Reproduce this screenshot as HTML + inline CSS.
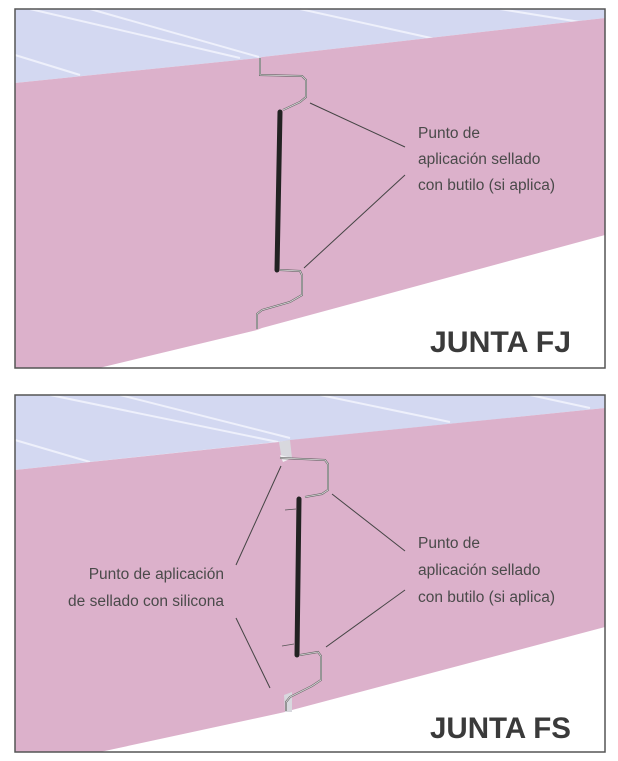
<!DOCTYPE html>
<html><head><meta charset="utf-8"><style>
html,body{margin:0;padding:0;background:#fff;}
svg{display:block;}
text{font-family:"Liberation Sans",sans-serif;fill:#4a4a4a;}
</style></head><body>
<svg width="618" height="761" viewBox="0 0 618 761" xmlns="http://www.w3.org/2000/svg">
<!-- Panel 1 -->
<rect x="15" y="9" width="590" height="359" fill="#fff"/>
<polygon points="15,9 605,9 605,18 262,57 259,58 15,83" fill="#d3d8f1"/>
<g stroke="#eef0fb" stroke-width="2" fill="none">
<line x1="30" y1="9" x2="240" y2="58"/>
<line x1="90" y1="9" x2="259" y2="57"/>
<line x1="300" y1="9" x2="440" y2="40"/>
<line x1="500" y1="9" x2="580" y2="22"/>
<line x1="15" y1="55" x2="80" y2="75"/>
</g>
<polygon points="15,83 259,58 262,57 605,18 605,235 262,328 257,330 99,368 15,368" fill="#dcb1cb"/>
<path d="M260,58 L260,75 L302,76 L306,80 L306,97 L300,102 L283,110" fill="none" stroke="#666" stroke-width="2"/>
<path d="M260,58 L260,75 L302,76 L306,80 L306,97 L300,102 L283,110" fill="none" stroke="#ddd" stroke-width="0.8"/>
<path d="M280,112 L277,270" stroke="#222" stroke-width="5" stroke-linecap="round"/>
<path d="M280,270 L300,271 L302,275 L302,295 L290,302 L262,310 L257,314 L257,329" fill="none" stroke="#666" stroke-width="2"/>
<path d="M280,270 L300,271 L302,275 L302,295 L290,302 L262,310 L257,314 L257,329" fill="none" stroke="#ddd" stroke-width="0.8"/>
<line x1="310" y1="103" x2="405" y2="147" stroke="#444" stroke-width="1"/>
<line x1="304" y1="268" x2="405" y2="175" stroke="#444" stroke-width="1"/>
<text x="418" y="138" font-size="15.5">Punto de</text>
<text x="418" y="164" font-size="15.5">aplicación sellado</text>
<text x="418" y="190" font-size="15.5">con butilo (si aplica)</text>
<text x="430" y="352" font-size="30" font-weight="bold" textLength="141" lengthAdjust="spacingAndGlyphs" style="fill:#3a3a3a">JUNTA FJ</text>
<rect x="15" y="9" width="590" height="359" fill="none" stroke="#555" stroke-width="1.5"/>

<!-- Panel 2 -->
<rect x="15" y="395" width="590" height="357" fill="#fff"/>
<polygon points="15,395 605,395 605,408 292,440 277,442 15,470" fill="#d3d8f1"/>
<g stroke="#eef0fb" stroke-width="2" fill="none">
<line x1="50" y1="395" x2="278" y2="442"/>
<line x1="120" y1="395" x2="290" y2="438"/>
<line x1="320" y1="395" x2="450" y2="422"/>
<line x1="530" y1="395" x2="590" y2="408"/>
<line x1="15" y1="440" x2="90" y2="462"/>
</g>
<polygon points="15,470 279,442 290,440 605,408 605,627 292,710 285,712 100,752 15,752" fill="#dcb1cb"/>
<!-- top notch -->
<polygon points="279,442 290,440 292,458 282,460" fill="#d8d8de"/>
<polygon points="280,455 292,458 283,462" fill="#f2f2f4"/>
<!-- bottom notch -->
<polygon points="284,695 292,692 292,712 285,712" fill="#d8d8de"/>
<path d="M280,458 L325,460 L328,464 L328,490 L322,494 L305,497" fill="none" stroke="#666" stroke-width="2"/>
<path d="M280,458 L325,460 L328,464 L328,490 L322,494 L305,497" fill="none" stroke="#ddd" stroke-width="0.8"/>
<path d="M299,499 L297,655" stroke="#222" stroke-width="5" stroke-linecap="round"/>
<path d="M300,655 L318,652 L321,656 L321,680 L312,686 L290,697 L286,702 L286,711" fill="none" stroke="#666" stroke-width="2"/>
<path d="M300,655 L318,652 L321,656 L321,680 L312,686 L290,697 L286,702 L286,711" fill="none" stroke="#ddd" stroke-width="0.8"/>
<path d="M285,510 L296,509 M282,646 L294,644" stroke="#555" stroke-width="0.8"/>
<line x1="281" y1="466" x2="236" y2="565" stroke="#444" stroke-width="1"/>
<line x1="236" y1="618" x2="270" y2="688" stroke="#444" stroke-width="1"/>
<line x1="332" y1="494" x2="405" y2="551" stroke="#444" stroke-width="1"/>
<line x1="326" y1="647" x2="405" y2="590" stroke="#444" stroke-width="1"/>
<text x="418" y="548" font-size="15.5">Punto de</text>
<text x="418" y="575" font-size="15.5">aplicación sellado</text>
<text x="418" y="602" font-size="15.5">con butilo (si aplica)</text>
<text x="224" y="579" font-size="15.5" text-anchor="end">Punto de aplicación</text>
<text x="224" y="606" font-size="15.5" text-anchor="end">de sellado con silicona</text>
<text x="430" y="738" font-size="30" font-weight="bold" textLength="141" lengthAdjust="spacingAndGlyphs" style="fill:#3a3a3a">JUNTA FS</text>
<rect x="15" y="395" width="590" height="357" fill="none" stroke="#555" stroke-width="1.5"/>
</svg>
</body></html>
